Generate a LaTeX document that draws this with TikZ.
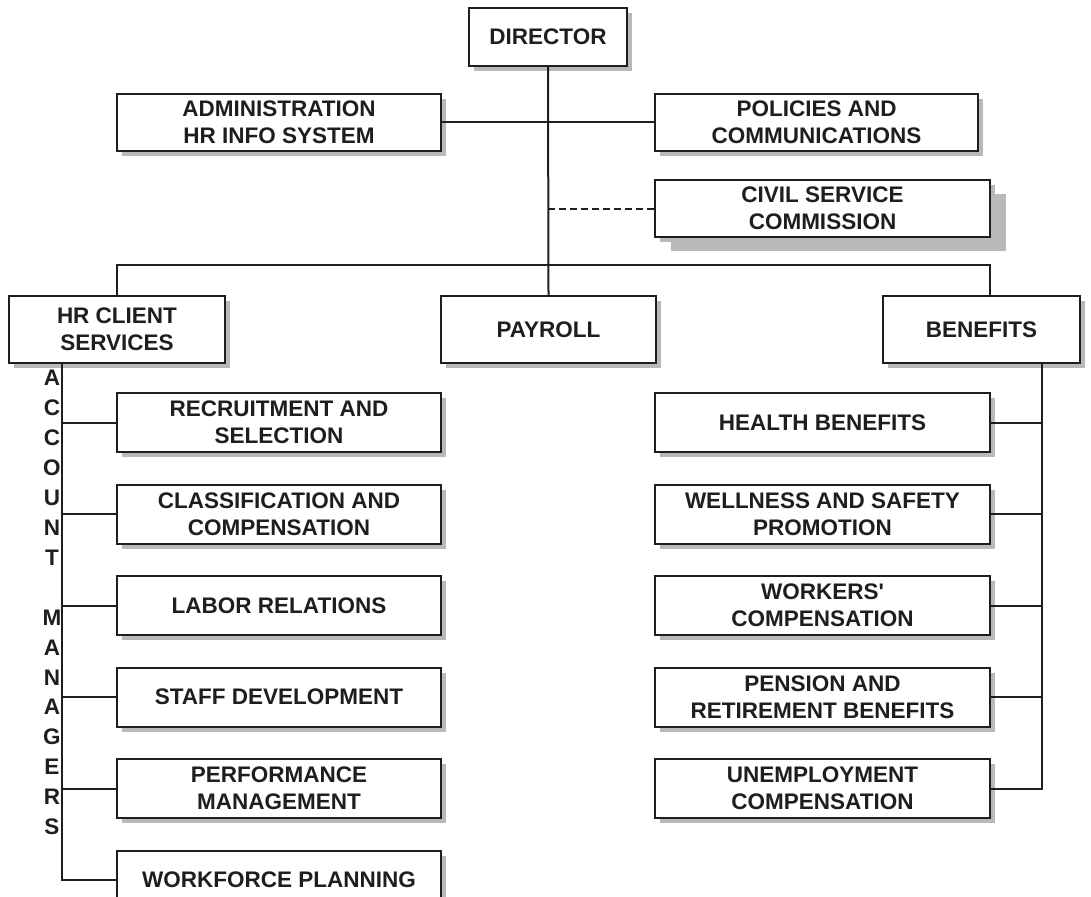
\documentclass[tikz,border=0pt]{standalone}
\usepackage{fontspec}
\newfontfamily\chartfont{Liberation Sans}
\usetikzlibrary{positioning, shadows}

\definecolor{inkdark}{HTML}{1E1E1E}
\definecolor{shadowgray}{HTML}{B9B9B9}

\begin{document}
\begin{tikzpicture}[
        x=1pt, y=-1pt,
        node distance=30.5pt and 30pt,
        every node/.style={text=inkdark, font=\chartfont\fontsize{22.5}{27}\selectfont\bfseries},
        org_box/.style={draw=inkdark, line width=2pt, fill=white, rectangle, align=center, inner sep=0pt,
            drop shadow={shadow xshift=5pt, shadow yshift=-5pt, fill=shadowgray, opacity=1}},
        head_box/.style={org_box, minimum height=67pt},
        left_unit/.style={org_box, minimum width=324pt, minimum height=59pt},
        right_unit/.style={org_box, minimum width=335pt, minimum height=59pt},
        link/.style={draw=inkdark, line width=2pt},
        dash_link/.style={link, dash pattern=on 7pt off 4pt}
    ]
        \useasboundingbox (0,0) rectangle (1091,896);

        % Nodes
        \node (director) [org_box, minimum width=158pt, minimum height=58pt] at (548,37) {DIRECTOR};
        \node (admin) [org_box, minimum width=324pt, minimum height=57pt] at (279,122.5) {ADMINISTRATION\\HR INFO SYSTEM};
        \node (policies) [org_box, minimum width=323pt, minimum height=57pt] at (816.5,122.5) {POLICIES AND\\COMMUNICATIONS};
        \node (civil) [org_box, minimum width=335pt, minimum height=57pt,
            drop shadow={shadow xshift=16pt, shadow yshift=-14pt, fill=shadowgray, opacity=1}] at (822.5,208.5) {CIVIL SERVICE\\COMMISSION};
        \node (hrclient) [head_box, minimum width=216pt] at (117,329.5) {HR CLIENT\\SERVICES};
        \node (payroll) [head_box, minimum width=215pt] at (548.5,329.5) {PAYROLL};
        \node (benefits) [head_box, minimum width=197pt] at (981.5,329.5) {BENEFITS};

        \node (recruit) [left_unit] at (279,422.5) {RECRUITMENT AND\\SELECTION};
        \node (classif) [left_unit, below=of recruit] {CLASSIFICATION AND\\COMPENSATION};
        \node (labor) [left_unit, below=of classif] {LABOR RELATIONS};
        \node (staff) [left_unit, below=of labor] {STAFF DEVELOPMENT};
        \node (perf) [left_unit, below=of staff] {PERFORMANCE\\MANAGEMENT};
        \node (workforce) [left_unit, below=of perf] {WORKFORCE PLANNING};

        \node (health) [right_unit] at (822.5,422.5) {HEALTH BENEFITS};
        \node (wellness) [right_unit, below=of health] {WELLNESS AND SAFETY\\PROMOTION};
        \node (workers) [right_unit, below=of wellness] {WORKERS'\\COMPENSATION};
        \node (pension) [right_unit, below=of workers] {PENSION AND\\RETIREMENT BENEFITS};
        \node (unemploy) [right_unit, below=of pension] {UNEMPLOYMENT\\COMPENSATION};

        % Account managers label
        \foreach \ch [count=\i from 0] in {A,C,C,O,U,N,T,{},M,A,N,A,G,E,R,S}
            \node (letter\i) [inner sep=0pt] at (52,378+\i*29.93) {\ch};

        % Connectors
        \coordinate (bus_east) at (990,265);
        \coordinate (acc_x) at (62,0);
        \coordinate (ben_x) at (1042,0);

        \draw [link] (director.south) -- (payroll.north);
        \draw [link] (admin.east) -- (admin.east -| director.south);
        \draw [link] (policies.west) -- (policies.west -| director.south);
        \draw [dash_link] (civil.west) -- (civil.west -| director.south);
        \draw [link] (hrclient.north) |- (bus_east) -- (bus_east |- benefits.north);

        \draw [link] (hrclient.south -| acc_x) |- (workforce.west);
        \foreach \n in {recruit, classif, labor, staff, perf}
            \draw [link] (\n.west) -- (\n.west -| acc_x);

        \draw [link] (benefits.south -| ben_x) |- (unemploy.east);
        \foreach \n in {health, wellness, workers, pension}
            \draw [link] (\n.east) -- (\n.east -| ben_x);
    \end{tikzpicture}
\end{document}
